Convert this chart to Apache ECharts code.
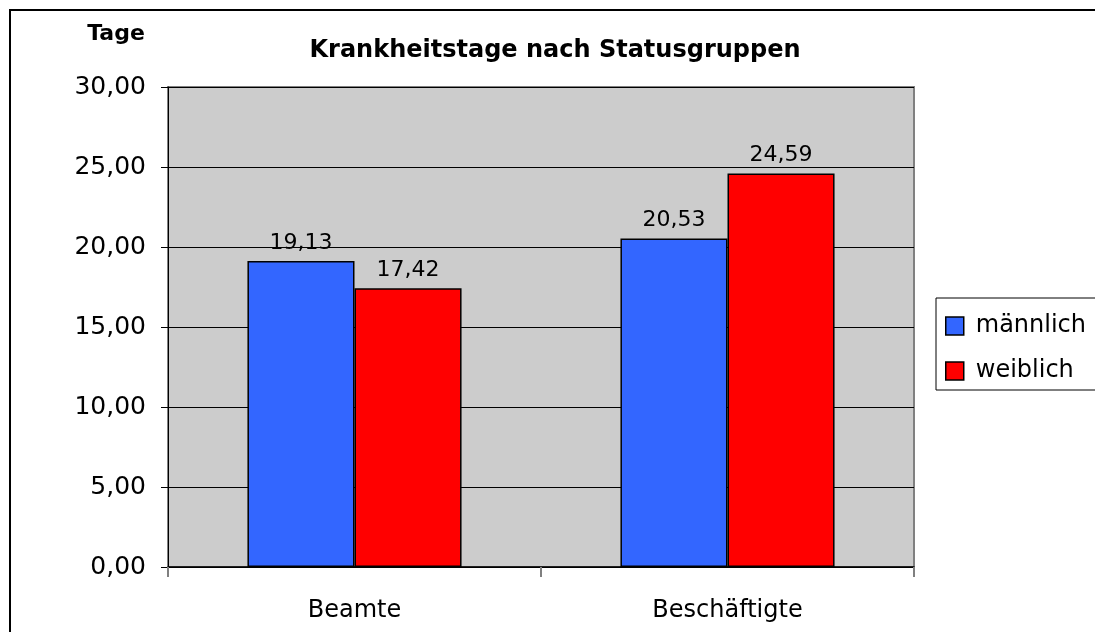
<!DOCTYPE html>
<html>
<head>
<meta charset="utf-8">
<script src="https://cdn.jsdelivr.net/npm/echarts@6/dist/echarts.min.js"></script>
<style>
  html, body { margin: 0; padding: 0; background: #fff; }
  #chart { width: 1095px; height: 632px; }
</style>
</head>
<body>
<div id="chart"></div>
<script>
// Sick days per status group, split by sex
const categories = ['Beamte', 'Beschäftigte'];
const maleValues = [19.13, 20.53];
const femaleValues = [17.42, 24.59];
const seriesNames = ['männlich', 'weiblich'];
const yTicks = { min: 0, max: 30, interval: 5 };

const fmt = v => Number(v).toFixed(2).replace('.', ',');
const FONT = '"DejaVu Sans", sans-serif';

const chart = echarts.init(document.getElementById('chart'), null, { renderer: 'canvas' });

const barLabel = {
  show: true,
  position: 'top',
  distance: 7,
  color: '#000',
  fontFamily: FONT,
  fontSize: 22,
  formatter: p => fmt(p.value)
};

chart.setOption({
  animation: false,
  backgroundColor: '#fff',
  textStyle: { fontFamily: FONT },
  graphic: [
    {
      type: 'rect',
      shape: { x: 10, y: 10, width: 1200, height: 700 },
      style: { fill: 'none', stroke: '#000', lineWidth: 2 },
      z: 100
    },
    {
      type: 'text',
      x: 116, y: 34,
      style: {
        text: 'Tage', font: 'bold 22px ' + FONT, fill: '#000',
        align: 'center', verticalAlign: 'middle'
      }
    },
    {
      type: 'text',
      x: 555, y: 51,
      style: {
        text: 'Krankheitstage nach Statusgruppen', font: 'bold 24px ' + FONT, fill: '#000',
        align: 'center', verticalAlign: 'middle'
      }
    }
  ],
  legend: {
    orient: 'vertical',
    left: 936, top: 298,
    padding: [16, 40, 7, 9],
    itemGap: 21,
    itemWidth: 18, itemHeight: 18,
    icon: 'rect',
    itemStyle: { borderColor: '#000', borderWidth: 1.5 },
    borderColor: '#000', borderWidth: 1,
    backgroundColor: '#fff',
    textStyle: { fontFamily: FONT, fontSize: 24, lineHeight: 24, color: '#000', padding: [0, 0, 0, 7] },
    data: seriesNames
  },
  grid: {
    left: 168, right: 181, top: 87, bottom: 65,
    show: true,
    backgroundColor: '#CCCCCC',
    borderColor: '#808080',
    borderWidth: 2
  },
  xAxis: {
    type: 'category',
    data: categories,
    axisLine: { show: true, lineStyle: { color: '#000', width: 1.5 } },
    axisTick: { show: true, length: 10, lineStyle: { color: '#808080', width: 2 } },
    axisLabel: { color: '#000', fontFamily: FONT, fontSize: 24, margin: 32 }
  },
  yAxis: {
    type: 'value',
    min: yTicks.min, max: yTicks.max, interval: yTicks.interval,
    axisLine: { show: true, lineStyle: { color: '#000', width: 1 } },
    axisTick: { show: true, length: 7, lineStyle: { color: '#000' } },
    splitLine: { show: true, lineStyle: { color: '#000', width: 1 } },
    axisLabel: { color: '#000', fontFamily: FONT, fontSize: 25, margin: 22, formatter: v => fmt(v) }
  },
  series: [
    {
      name: seriesNames[0],
      type: 'bar',
      data: maleValues,
      barGap: '0%',
      barCategoryGap: '42.6%',
      itemStyle: { color: '#3366FF', borderColor: '#000', borderWidth: 1.5 },
      label: barLabel
    },
    {
      name: seriesNames[1],
      type: 'bar',
      data: femaleValues,
      barGap: '0%',
      barCategoryGap: '42.6%',
      itemStyle: { color: '#FF0000', borderColor: '#000', borderWidth: 1.5 },
      label: barLabel
    }
  ]
});
</script>
</body>
</html>
